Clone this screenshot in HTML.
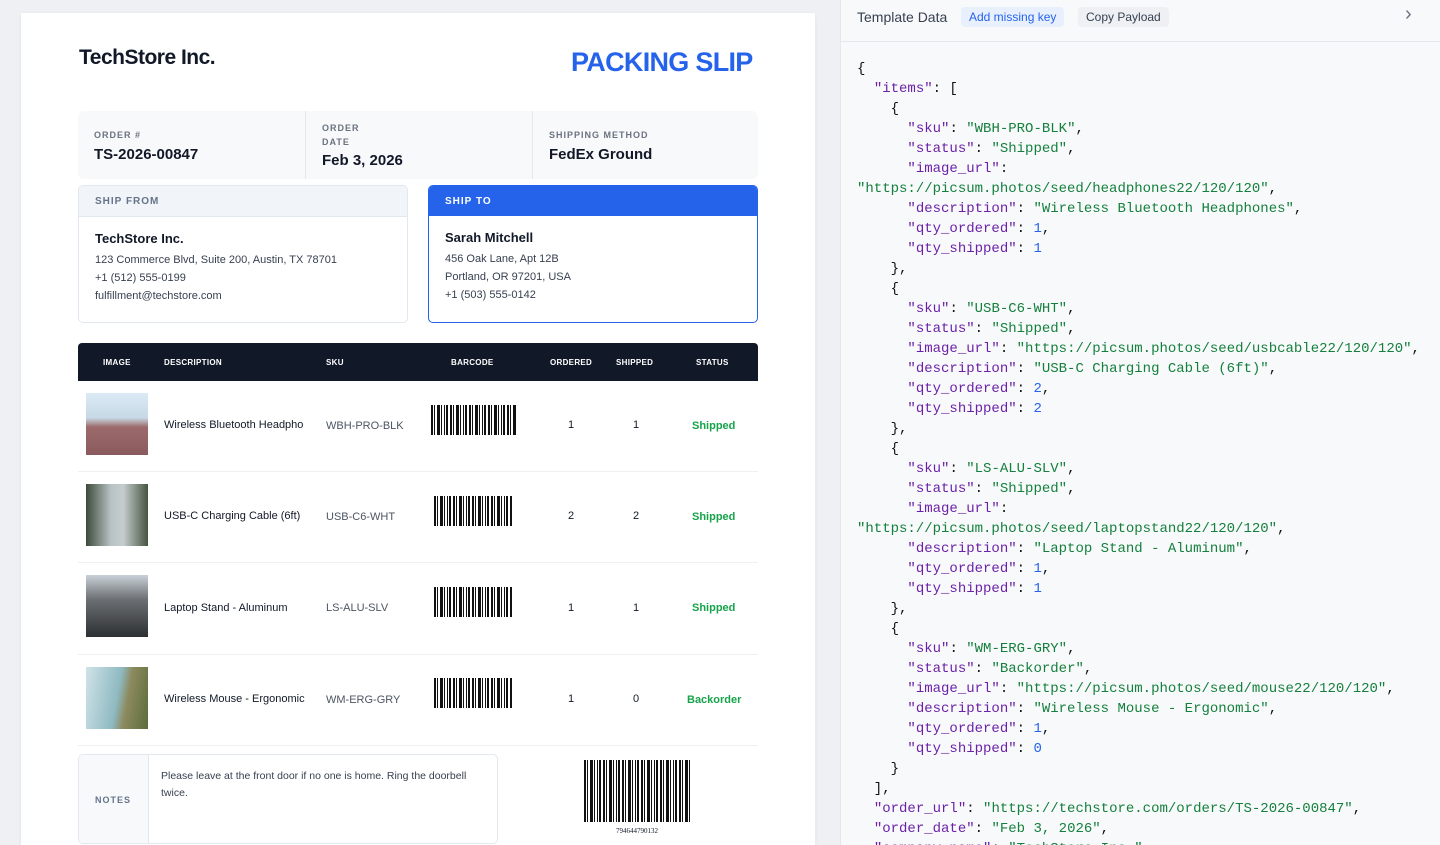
<!DOCTYPE html>
<html style="overflow:hidden;height:845px"><head><meta charset="utf-8"><style>
*{margin:0;padding:0;box-sizing:border-box}
body{width:1440px;height:845px;overflow:hidden;background:#eef0f3;font-family:"Liberation Sans",Arial,sans-serif;position:relative;color:#111827}
.a{position:absolute}
.page{left:21px;top:13px;width:794px;height:832px;background:#fff;box-shadow:0 1px 4px rgba(0,0,0,.06)}
.lbl{font-size:9px;font-weight:bold;letter-spacing:1px;color:#6b7280}
.val{font-size:15px;font-weight:bold;color:#111827}
.bc{background:repeating-linear-gradient(90deg,#111 0 2px,#fff 2px 3px,#111 3px 4px,#fff 4px 6px,#111 6px 9px,#fff 9px 10px,#111 10px 11px,#fff 11px 13px,#111 13px 14px,#fff 14px 15px,#111 15px 17px,#fff 17px 19px)}
.th{font-size:8px;font-weight:bold;color:#fff;letter-spacing:.3px}
.td{font-size:11px;color:#111827}
.sku{font-size:11px;color:#4b5563}
.st{font-size:11px;font-weight:bold;color:#16a34a}
.row{left:78px;width:680px;height:1px;background:#eef0f3}
.right{left:840px;top:0;width:600px;height:845px;background:#f8f9fb;border-left:1px solid #e5e7eb}
pre{font-family:"Liberation Mono",monospace;font-size:14px;line-height:20px;color:#111}
.k{color:#6b21a8}.s{color:#15803d}.n{color:#2563eb}
</style></head><body>
<div class="a page"></div>
<div class="a" style="left:79px;top:46px;font-size:21px;font-weight:bold;letter-spacing:-.5px">TechStore Inc.</div>
<div class="a" style="left:571px;top:47px;font-size:27px;font-weight:bold;color:#2563eb;letter-spacing:-.7px">PACKING SLIP</div>

<div class="a" style="left:78px;top:111px;width:680px;height:68px;background:#f8f9fb;border-radius:6px"></div>
<div class="a" style="left:305px;top:111px;width:1px;height:68px;background:#e5e7eb"></div>
<div class="a" style="left:532px;top:111px;width:1px;height:68px;background:#e5e7eb"></div>
<div class="a lbl" style="left:94px;top:130px">ORDER #</div>
<div class="a val" style="left:94px;top:146px">TS-2026-00847</div>
<div class="a lbl" style="left:322px;top:121px;line-height:14px">ORDER<br>DATE</div>
<div class="a val" style="left:322px;top:152px">Feb 3, 2026</div>
<div class="a lbl" style="left:549px;top:130px">SHIPPING METHOD</div>
<div class="a val" style="left:549px;top:146px">FedEx Ground</div>

<div class="a" style="left:78px;top:185px;width:330px;height:138px;border:1px solid #e2e8f0;border-radius:5px;overflow:hidden">
 <div style="height:31px;background:#f1f4f8;border-bottom:1px solid #e2e8f0;padding:10px 16px" class="lbl"><span style="font-size:10px;color:#64748b">SHIP FROM</span></div>
 <div style="padding:13px 16px;font-size:11px;color:#374151;line-height:18px"><div style="font-size:13px;font-weight:bold;color:#111827;margin-bottom:3px">TechStore Inc.</div>123 Commerce Blvd, Suite 200, Austin, TX 78701<br>+1 (512) 555-0199<br>fulfillment@techstore.com</div>
</div>
<div class="a" style="left:428px;top:185px;width:330px;height:138px;border:1px solid #2563eb;border-radius:5px;overflow:hidden">
 <div style="height:30px;background:#2563eb;padding:10px 16px;font-size:10px;font-weight:bold;color:#fff;letter-spacing:1px">SHIP TO</div>
 <div style="padding:13px 16px;font-size:11px;color:#374151;line-height:18px"><div style="font-size:13px;font-weight:bold;color:#111827;margin-bottom:3px">Sarah Mitchell</div>456 Oak Lane, Apt 12B<br>Portland, OR 97201, USA<br>+1 (503) 555-0142</div>
</div>

<div class="a" style="left:78px;top:343px;width:680px;height:38px;background:#111827;border-radius:4px 4px 0 0"></div>
<div class="a th" style="left:103px;top:358px">IMAGE</div>
<div class="a th" style="left:164px;top:358px">DESCRIPTION</div>
<div class="a th" style="left:326px;top:358px">SKU</div>
<div class="a th" style="left:451px;top:358px">BARCODE</div>
<div class="a th" style="left:550px;top:358px">ORDERED</div>
<div class="a th" style="left:616px;top:358px">SHIPPED</div>
<div class="a th" style="left:696px;top:358px">STATUS</div>

<div class="a" style="left:86px;top:393px;width:62px;height:62px;background:linear-gradient(#dbeaf5 0,#c7d9e6 40%,#9c6a6a 55%,#8a5a5e 100%)"></div>
<div class="a" style="left:86px;top:484px;width:62px;height:62px;background:linear-gradient(90deg,#3c4a3a,#b8c2c4 40%,#c5ccce 60%,#45553f)"></div>
<div class="a" style="left:86px;top:575px;width:62px;height:62px;background:linear-gradient(#c9d1d8,#6b6e72 40%,#2d3033)"></div>
<div class="a" style="left:86px;top:667px;width:62px;height:62px;background:linear-gradient(100deg,#cfe3e8,#8fb9c1 50%,#8c8a5e 65%,#5c6c3a)"></div>

<div class="a td" style="left:164px;top:419px;font-weight:500">Wireless Bluetooth Headpho</div>
<div class="a td" style="left:164px;top:510px">USB-C Charging Cable (6ft)</div>
<div class="a td" style="left:164px;top:602px">Laptop Stand - Aluminum</div>
<div class="a td" style="left:164px;top:693px">Wireless Mouse - Ergonomic</div>
<div class="a sku" style="left:326px;top:420px">WBH-PRO-BLK</div>
<div class="a sku" style="left:326px;top:511px">USB-C6-WHT</div>
<div class="a sku" style="left:326px;top:602px">LS-ALU-SLV</div>
<div class="a sku" style="left:326px;top:694px">WM-ERG-GRY</div>

<div class="a bc" style="left:431px;top:405px;width:85px;height:30px"></div>
<div class="a bc" style="left:434px;top:496px;width:78px;height:30px"></div>
<div class="a bc" style="left:434px;top:587px;width:78px;height:30px"></div>
<div class="a bc" style="left:434px;top:678px;width:78px;height:30px"></div>

<div class="a td" style="left:568px;top:419px">1</div><div class="a td" style="left:633px;top:419px">1</div>
<div class="a td" style="left:568px;top:510px">2</div><div class="a td" style="left:633px;top:510px">2</div>
<div class="a td" style="left:568px;top:602px">1</div><div class="a td" style="left:633px;top:602px">1</div>
<div class="a td" style="left:568px;top:693px">1</div><div class="a td" style="left:633px;top:693px">0</div>
<div class="a st" style="left:692px;top:420px">Shipped</div>
<div class="a st" style="left:692px;top:511px">Shipped</div>
<div class="a st" style="left:692px;top:602px">Shipped</div>
<div class="a st" style="left:687px;top:694px">Backorder</div>

<div class="a row" style="top:471px"></div><div class="a row" style="top:562px"></div>
<div class="a row" style="top:654px"></div><div class="a row" style="top:745px"></div>

<div class="a" style="left:78px;top:754px;width:420px;height:90px;border:1px solid #e2e8f0;border-radius:5px;overflow:hidden">
 <div style="position:absolute;left:0;top:0;width:70px;height:90px;background:#f8f9fb;border-right:1px solid #e2e8f0"></div>
 <div class="lbl" style="position:absolute;left:16px;top:40px;color:#64748b">NOTES</div>
 <div style="position:absolute;left:82px;top:13px;width:330px;font-size:10.5px;line-height:17px;color:#374151">Please leave at the front door if no one is home. Ring the doorbell twice.</div>
</div>
<div class="a bc" style="left:584px;top:760px;width:108px;height:62px"></div>
<div class="a" style="left:616px;top:827px;font-size:7px;font-family:'Liberation Serif',serif">794644790132</div>

<div class="a right"></div>
<div class="a" style="left:841px;top:41px;width:599px;height:1px;background:#e5e7eb"></div>
<div class="a" style="left:857px;top:9px;font-size:14px;color:#374151;line-height:16px">Template Data</div>
<div class="a" style="left:961px;top:7px;padding:2px 8px;background:#e8f0fd;border-radius:4px;font-size:12px;color:#2563eb;line-height:16px">Add missing key</div>
<div class="a" style="left:1078px;top:7px;padding:2px 8px;background:#eef0f3;border-radius:4px;font-size:12px;color:#374151;line-height:16px">Copy Payload</div>
<div class="a" style="left:1405px;top:3px;font-size:20px;color:#6b7280">›</div>
<pre class="a" style="left:857px;top:59px">{
  <span class="k">"items"</span>: [
    {
      <span class="k">"sku"</span>: <span class="s">"WBH-PRO-BLK"</span>,
      <span class="k">"status"</span>: <span class="s">"Shipped"</span>,
      <span class="k">"image_url"</span>:
<span class="s">"https://picsum.photos/seed/headphones22/120/120"</span>,
      <span class="k">"description"</span>: <span class="s">"Wireless Bluetooth Headphones"</span>,
      <span class="k">"qty_ordered"</span>: <span class="n">1</span>,
      <span class="k">"qty_shipped"</span>: <span class="n">1</span>
    },
    {
      <span class="k">"sku"</span>: <span class="s">"USB-C6-WHT"</span>,
      <span class="k">"status"</span>: <span class="s">"Shipped"</span>,
      <span class="k">"image_url"</span>: <span class="s">"https://picsum.photos/seed/usbcable22/120/120"</span>,
      <span class="k">"description"</span>: <span class="s">"USB-C Charging Cable (6ft)"</span>,
      <span class="k">"qty_ordered"</span>: <span class="n">2</span>,
      <span class="k">"qty_shipped"</span>: <span class="n">2</span>
    },
    {
      <span class="k">"sku"</span>: <span class="s">"LS-ALU-SLV"</span>,
      <span class="k">"status"</span>: <span class="s">"Shipped"</span>,
      <span class="k">"image_url"</span>:
<span class="s">"https://picsum.photos/seed/laptopstand22/120/120"</span>,
      <span class="k">"description"</span>: <span class="s">"Laptop Stand - Aluminum"</span>,
      <span class="k">"qty_ordered"</span>: <span class="n">1</span>,
      <span class="k">"qty_shipped"</span>: <span class="n">1</span>
    },
    {
      <span class="k">"sku"</span>: <span class="s">"WM-ERG-GRY"</span>,
      <span class="k">"status"</span>: <span class="s">"Backorder"</span>,
      <span class="k">"image_url"</span>: <span class="s">"https://picsum.photos/seed/mouse22/120/120"</span>,
      <span class="k">"description"</span>: <span class="s">"Wireless Mouse - Ergonomic"</span>,
      <span class="k">"qty_ordered"</span>: <span class="n">1</span>,
      <span class="k">"qty_shipped"</span>: <span class="n">0</span>
    }
  ],
  <span class="k">"order_url"</span>: <span class="s">"https://techstore.com/orders/TS-2026-00847"</span>,
  <span class="k">"order_date"</span>: <span class="s">"Feb 3, 2026"</span>,
  <span class="k">"company_name"</span>: <span class="s">"TechStore Inc."</span>
</pre>
</body></html>
